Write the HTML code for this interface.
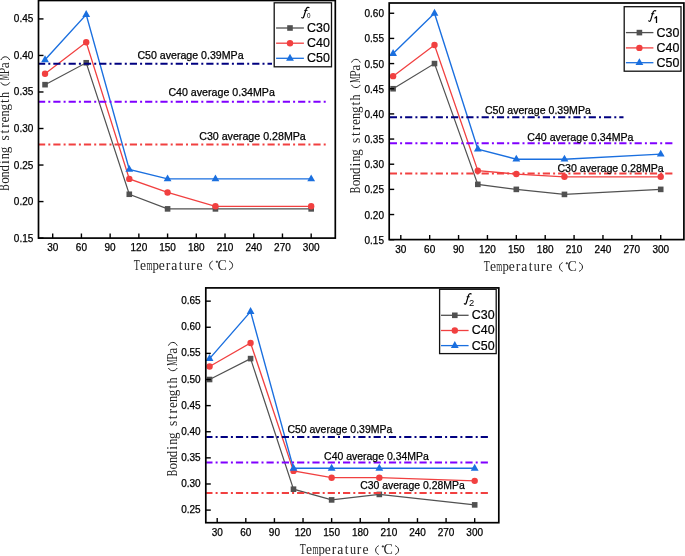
<!DOCTYPE html>
<html><head><meta charset="utf-8"><style>
html,body{margin:0;padding:0;background:#fff;}
svg{display:block;will-change:transform;}
.tl{font-family:"Liberation Sans",sans-serif;font-size:10px;fill:#000;stroke:#000;stroke-width:0.25px;}
.al{font-family:"Liberation Sans",sans-serif;font-size:11px;fill:#000;stroke:#000;stroke-width:0.25px;}
.lg{font-family:"Liberation Sans",sans-serif;font-size:12px;fill:#000;stroke:#000;stroke-width:0.2px;}
.ti{font-family:"Liberation Serif",serif;font-size:13.6px;fill:#222;}
.sub{font-family:"Liberation Sans",sans-serif;fill:#000;}
</style></head><body>
<svg width="685" height="556" viewBox="0 0 685 556">
<rect width="685" height="556" fill="#fff"/>
<g>
<polyline points="45.04,84.67 86.21,62.76 129.29,194.26 167.58,208.88 215.45,208.88 311.18,208.88" fill="none" stroke="#515151" stroke-width="1.2"/>
<polyline points="45.04,73.72 86.21,42.3 129.29,178.92 167.58,192.44 215.45,206.32 311.18,206.32" fill="none" stroke="#F14040" stroke-width="1.3"/>
<polyline points="45.04,59.83 86.21,14.54 129.29,169.42 167.58,178.92 215.45,178.92 311.18,178.92" fill="none" stroke="#1A6FDF" stroke-width="1.4"/>
<rect x="42.24" y="81.87" width="5.6" height="5.6" fill="#515151"/>
<rect x="83.41" y="59.96" width="5.6" height="5.6" fill="#515151"/>
<rect x="126.49" y="191.46" width="5.6" height="5.6" fill="#515151"/>
<rect x="164.78" y="206.08" width="5.6" height="5.6" fill="#515151"/>
<rect x="212.65" y="206.08" width="5.6" height="5.6" fill="#515151"/>
<rect x="308.38" y="206.08" width="5.6" height="5.6" fill="#515151"/>
<circle cx="45.04" cy="73.72" r="3.2" fill="#F14040"/>
<circle cx="86.21" cy="42.3" r="3.2" fill="#F14040"/>
<circle cx="129.29" cy="178.92" r="3.2" fill="#F14040"/>
<circle cx="167.58" cy="192.44" r="3.2" fill="#F14040"/>
<circle cx="215.45" cy="206.32" r="3.2" fill="#F14040"/>
<circle cx="311.18" cy="206.32" r="3.2" fill="#F14040"/>
<path d="M45.04,55.33L48.94,62.23L41.14,62.23Z" fill="#1A6FDF"/>
<path d="M86.21,10.04L90.11,16.94L82.31,16.94Z" fill="#1A6FDF"/>
<path d="M129.29,164.92L133.19,171.82L125.39,171.82Z" fill="#1A6FDF"/>
<path d="M167.58,174.42L171.48,181.32L163.68,181.32Z" fill="#1A6FDF"/>
<path d="M215.45,174.42L219.35,181.32L211.55,181.32Z" fill="#1A6FDF"/>
<path d="M311.18,174.42L315.08,181.32L307.28,181.32Z" fill="#1A6FDF"/>
<line x1="38.9" y1="63.71" x2="272" y2="63.71" stroke="#000080" stroke-width="2" stroke-dasharray="7.2 3.1 2 3" stroke-dashoffset="0.9"/>
<line x1="38.9" y1="101.84" x2="326.3" y2="101.84" stroke="#8000FF" stroke-width="2" stroke-dasharray="7.2 3.1 2 3" stroke-dashoffset="0.9"/>
<line x1="38.9" y1="144.58" x2="326.3" y2="144.58" stroke="#F14040" stroke-width="2" stroke-dasharray="7.2 3.1 2 3" stroke-dashoffset="0.9"/>
<text x="137.4" y="59.4" class="al" textLength="106.2" lengthAdjust="spacingAndGlyphs">C50 average 0.39MPa</text>
<text x="168.4" y="96.4" class="al" textLength="106.5" lengthAdjust="spacingAndGlyphs">C40 average 0.34MPa</text>
<text x="199.2" y="140.3" class="al" textLength="106.6" lengthAdjust="spacingAndGlyphs">C30 average 0.28MPa</text>
<rect x="38.5" y="0.5" width="296.8" height="237.6" fill="none" stroke="#000" stroke-width="1.7"/>
<line x1="38.5" y1="238.1" x2="43.5" y2="238.1" stroke="#000" stroke-width="1.4"/>
<text x="33.3" y="241.6" class="tl" text-anchor="end">0.15</text>
<line x1="38.5" y1="201.57" x2="43.5" y2="201.57" stroke="#000" stroke-width="1.4"/>
<text x="33.3" y="205.07" class="tl" text-anchor="end">0.20</text>
<line x1="38.5" y1="165.04" x2="43.5" y2="165.04" stroke="#000" stroke-width="1.4"/>
<text x="33.3" y="168.54" class="tl" text-anchor="end">0.25</text>
<line x1="38.5" y1="128.51" x2="43.5" y2="128.51" stroke="#000" stroke-width="1.4"/>
<text x="33.3" y="132.01" class="tl" text-anchor="end">0.30</text>
<line x1="38.5" y1="91.98" x2="43.5" y2="91.98" stroke="#000" stroke-width="1.4"/>
<text x="33.3" y="95.48" class="tl" text-anchor="end">0.35</text>
<line x1="38.5" y1="55.45" x2="43.5" y2="55.45" stroke="#000" stroke-width="1.4"/>
<text x="33.3" y="58.95" class="tl" text-anchor="end">0.40</text>
<line x1="38.5" y1="18.92" x2="43.5" y2="18.92" stroke="#000" stroke-width="1.4"/>
<text x="33.3" y="22.42" class="tl" text-anchor="end">0.45</text>
<line x1="52.7" y1="238.1" x2="52.7" y2="233.5" stroke="#000" stroke-width="1.4"/>
<text x="52.7" y="251.3" class="tl" text-anchor="middle">30</text>
<line x1="81.42" y1="238.1" x2="81.42" y2="233.5" stroke="#000" stroke-width="1.4"/>
<text x="81.42" y="251.3" class="tl" text-anchor="middle">60</text>
<line x1="110.14" y1="238.1" x2="110.14" y2="233.5" stroke="#000" stroke-width="1.4"/>
<text x="110.14" y="251.3" class="tl" text-anchor="middle">90</text>
<line x1="138.86" y1="238.1" x2="138.86" y2="233.5" stroke="#000" stroke-width="1.4"/>
<text x="138.86" y="251.3" class="tl" text-anchor="middle">120</text>
<line x1="167.58" y1="238.1" x2="167.58" y2="233.5" stroke="#000" stroke-width="1.4"/>
<text x="167.58" y="251.3" class="tl" text-anchor="middle">150</text>
<line x1="196.3" y1="238.1" x2="196.3" y2="233.5" stroke="#000" stroke-width="1.4"/>
<text x="196.3" y="251.3" class="tl" text-anchor="middle">180</text>
<line x1="225.02" y1="238.1" x2="225.02" y2="233.5" stroke="#000" stroke-width="1.4"/>
<text x="225.02" y="251.3" class="tl" text-anchor="middle">210</text>
<line x1="253.74" y1="238.1" x2="253.74" y2="233.5" stroke="#000" stroke-width="1.4"/>
<text x="253.74" y="251.3" class="tl" text-anchor="middle">240</text>
<line x1="282.46" y1="238.1" x2="282.46" y2="233.5" stroke="#000" stroke-width="1.4"/>
<text x="282.46" y="251.3" class="tl" text-anchor="middle">270</text>
<line x1="311.18" y1="238.1" x2="311.18" y2="233.5" stroke="#000" stroke-width="1.4"/>
<text x="311.18" y="251.3" class="tl" text-anchor="middle">300</text>
<rect x="274.2" y="2.8" width="57.3" height="64" fill="#fff" stroke="#111" stroke-width="1.3"/>
<line x1="276.1" y1="28" x2="303.9" y2="28" stroke="#515151" stroke-width="1.3"/>
<rect x="287.2" y="25.2" width="5.6" height="5.6" fill="#515151"/>
<text x="307.1" y="31.9" class="lg" textLength="22.8" lengthAdjust="spacingAndGlyphs">C30</text>
<line x1="276.1" y1="43.2" x2="303.9" y2="43.2" stroke="#F14040" stroke-width="1.3"/>
<circle cx="290" cy="43.2" r="3.2" fill="#F14040"/>
<text x="307.1" y="47.1" class="lg" textLength="22.8" lengthAdjust="spacingAndGlyphs">C40</text>
<line x1="276.1" y1="58.3" x2="303.9" y2="58.3" stroke="#1A6FDF" stroke-width="1.3"/>
<path d="M290,53.8L293.9,60.7L286.1,60.7Z" fill="#1A6FDF"/>
<text x="307.1" y="62.2" class="lg" textLength="22.8" lengthAdjust="spacingAndGlyphs">C50</text>
<path d="M301.44,17.2C302.25,18.48 303.31,18.25 303.94,16.26L306.16,9.01C306.78,7.25 308.3,6.9 309.45,7.84" fill="none" stroke="#000" stroke-width="1.2"/>
<path d="M304.2,10.41L307.59,10.41" stroke="#000" stroke-width="0.9"/>
<text x="307" y="17.9" class="sub" style="font-size:6.3px">0</text>
<text class="ti" transform="translate(133.87,269.5) scale(0.727,1)">T</text><text class="ti" x="140.11" y="269.5">e</text><text class="ti" transform="translate(146.4,269.5) scale(0.565,1)">m</text><text class="ti" transform="translate(152.61,269.5) scale(0.942,1)">p</text><text class="ti" x="158.87" y="269.5">e</text><text class="ti" x="165.83" y="269.5">r</text><text class="ti" x="171.27" y="269.5">a</text><text class="ti" x="178.77" y="269.5">t</text><text class="ti" transform="translate(183.93,269.5) scale(0.892,1)">u</text><text class="ti" x="190.85" y="269.5">r</text><text class="ti" x="196.4" y="269.5">e</text>
<path d="M212.7,261C208.57,262.94 208.57,267.86 212.7,269.8" fill="none" stroke="#1a1a1a" stroke-width="1.0"/>
<circle cx="216.9" cy="261.7" r="0.75" fill="#333" stroke="#1a1a1a" stroke-width="0.6"/>
<text x="217.53" y="269.7" class="ti" style="font-size:14px">C</text>
<path d="M229.2,261C233.73,262.94 233.73,267.86 229.2,269.8" fill="none" stroke="#1a1a1a" stroke-width="1.0"/>
<g transform="translate(9.4,190.5) rotate(-90)">
<text class="ti" transform="translate(-0.13,0) scale(0.711,1)">B</text><text class="ti" transform="translate(6.65,0) scale(0.989,1)">o</text><text class="ti" transform="translate(12.99,0) scale(0.907,1)">n</text><text class="ti" transform="translate(18.92,0) scale(0.928,1)">d</text><text class="ti" x="26.44" y="0">i</text><text class="ti" transform="translate(31.32,0) scale(0.907,1)">n</text><text class="ti" transform="translate(37.15,0) scale(0.957,1)">g</text><text class="ti" x="50.1" y="0">s</text><text class="ti" x="56.97" y="0">t</text><text class="ti" x="62.66" y="0">r</text><text class="ti" x="68.06" y="0">e</text><text class="ti" transform="translate(74.09,0) scale(0.907,1)">n</text><text class="ti" transform="translate(79.92,0) scale(0.957,1)">g</text><text class="ti" x="87.52" y="0">t</text><text class="ti" transform="translate(92.58,0) scale(0.879,1)">h</text>
<path d="M108.1,-8.5C104.5,-6.56 104.5,-1.64 108.1,0.3" fill="none" stroke="#1a1a1a" stroke-width="1.0"/>
<text class="ti" transform="translate(110.29,0) scale(0.531,1)">M</text><text class="ti" transform="translate(116.1,0) scale(0.905,1)">P</text><text class="ti" x="122.24" y="0">a</text>
<path d="M130.5,-8.5C134.77,-6.56 134.77,-1.64 130.5,0.3" fill="none" stroke="#1a1a1a" stroke-width="1.0"/>
</g>
</g>
<g>
<polyline points="393.1,88.74 434.49,63.58 477.81,184.35 516.32,189.38 564.45,194.41 660.72,189.38" fill="none" stroke="#515151" stroke-width="1.2"/>
<polyline points="393.1,76.16 434.49,44.96 477.81,170.76 516.32,174.03 564.45,176.8 660.72,176.8" fill="none" stroke="#F14040" stroke-width="1.3"/>
<polyline points="393.1,53.52 434.49,13.26 477.81,149.12 516.32,159.19 564.45,159.19 660.72,154.16" fill="none" stroke="#1A6FDF" stroke-width="1.4"/>
<rect x="390.3" y="85.94" width="5.6" height="5.6" fill="#515151"/>
<rect x="431.69" y="60.78" width="5.6" height="5.6" fill="#515151"/>
<rect x="475.01" y="181.55" width="5.6" height="5.6" fill="#515151"/>
<rect x="513.52" y="186.58" width="5.6" height="5.6" fill="#515151"/>
<rect x="561.65" y="191.61" width="5.6" height="5.6" fill="#515151"/>
<rect x="657.92" y="186.58" width="5.6" height="5.6" fill="#515151"/>
<circle cx="393.1" cy="76.16" r="3.2" fill="#F14040"/>
<circle cx="434.49" cy="44.96" r="3.2" fill="#F14040"/>
<circle cx="477.81" cy="170.76" r="3.2" fill="#F14040"/>
<circle cx="516.32" cy="174.03" r="3.2" fill="#F14040"/>
<circle cx="564.45" cy="176.8" r="3.2" fill="#F14040"/>
<circle cx="660.72" cy="176.8" r="3.2" fill="#F14040"/>
<path d="M393.1,49.02L397,55.92L389.2,55.92Z" fill="#1A6FDF"/>
<path d="M434.49,8.76L438.39,15.66L430.59,15.66Z" fill="#1A6FDF"/>
<path d="M477.81,144.62L481.71,151.52L473.91,151.52Z" fill="#1A6FDF"/>
<path d="M516.32,154.69L520.22,161.59L512.42,161.59Z" fill="#1A6FDF"/>
<path d="M564.45,154.69L568.35,161.59L560.55,161.59Z" fill="#1A6FDF"/>
<path d="M660.72,149.66L664.62,156.56L656.82,156.56Z" fill="#1A6FDF"/>
<line x1="389.6" y1="117.27" x2="623.5" y2="117.27" stroke="#000080" stroke-width="2" stroke-dasharray="7.2 3.1 2 3" stroke-dashoffset="-0.2"/>
<line x1="389.6" y1="143.24" x2="675.5" y2="143.24" stroke="#8000FF" stroke-width="2" stroke-dasharray="7.2 3.1 2 3" stroke-dashoffset="-0.2"/>
<line x1="389.6" y1="173.53" x2="675.5" y2="173.53" stroke="#F14040" stroke-width="2" stroke-dasharray="7.2 3.1 2 3" stroke-dashoffset="-0.2"/>
<text x="484.9" y="113.9" class="al" textLength="106" lengthAdjust="spacingAndGlyphs">C50 average 0.39MPa</text>
<text x="527.3" y="141.4" class="al" textLength="106.2" lengthAdjust="spacingAndGlyphs">C40 average 0.34MPa</text>
<text x="557.4" y="171.5" class="al" textLength="106.4" lengthAdjust="spacingAndGlyphs">C30 average 0.28MPa</text>
<rect x="389.2" y="3" width="294.7" height="236.6" fill="none" stroke="#000" stroke-width="1.7"/>
<line x1="389.2" y1="239.7" x2="394.2" y2="239.7" stroke="#000" stroke-width="1.4"/>
<text x="384" y="243.7" class="tl" text-anchor="end">0.15</text>
<line x1="389.2" y1="214.54" x2="394.2" y2="214.54" stroke="#000" stroke-width="1.4"/>
<text x="384" y="218.54" class="tl" text-anchor="end">0.20</text>
<line x1="389.2" y1="189.38" x2="394.2" y2="189.38" stroke="#000" stroke-width="1.4"/>
<text x="384" y="193.38" class="tl" text-anchor="end">0.25</text>
<line x1="389.2" y1="164.22" x2="394.2" y2="164.22" stroke="#000" stroke-width="1.4"/>
<text x="384" y="168.22" class="tl" text-anchor="end">0.30</text>
<line x1="389.2" y1="139.06" x2="394.2" y2="139.06" stroke="#000" stroke-width="1.4"/>
<text x="384" y="143.06" class="tl" text-anchor="end">0.35</text>
<line x1="389.2" y1="113.9" x2="394.2" y2="113.9" stroke="#000" stroke-width="1.4"/>
<text x="384" y="117.9" class="tl" text-anchor="end">0.40</text>
<line x1="389.2" y1="88.74" x2="394.2" y2="88.74" stroke="#000" stroke-width="1.4"/>
<text x="384" y="92.74" class="tl" text-anchor="end">0.45</text>
<line x1="389.2" y1="63.58" x2="394.2" y2="63.58" stroke="#000" stroke-width="1.4"/>
<text x="384" y="67.58" class="tl" text-anchor="end">0.50</text>
<line x1="389.2" y1="38.42" x2="394.2" y2="38.42" stroke="#000" stroke-width="1.4"/>
<text x="384" y="42.42" class="tl" text-anchor="end">0.55</text>
<line x1="389.2" y1="13.26" x2="394.2" y2="13.26" stroke="#000" stroke-width="1.4"/>
<text x="384" y="17.26" class="tl" text-anchor="end">0.60</text>
<line x1="400.8" y1="239.6" x2="400.8" y2="235" stroke="#000" stroke-width="1.4"/>
<text x="400.8" y="252.8" class="tl" text-anchor="middle">30</text>
<line x1="429.68" y1="239.6" x2="429.68" y2="235" stroke="#000" stroke-width="1.4"/>
<text x="429.68" y="252.8" class="tl" text-anchor="middle">60</text>
<line x1="458.56" y1="239.6" x2="458.56" y2="235" stroke="#000" stroke-width="1.4"/>
<text x="458.56" y="252.8" class="tl" text-anchor="middle">90</text>
<line x1="487.44" y1="239.6" x2="487.44" y2="235" stroke="#000" stroke-width="1.4"/>
<text x="487.44" y="252.8" class="tl" text-anchor="middle">120</text>
<line x1="516.32" y1="239.6" x2="516.32" y2="235" stroke="#000" stroke-width="1.4"/>
<text x="516.32" y="252.8" class="tl" text-anchor="middle">150</text>
<line x1="545.2" y1="239.6" x2="545.2" y2="235" stroke="#000" stroke-width="1.4"/>
<text x="545.2" y="252.8" class="tl" text-anchor="middle">180</text>
<line x1="574.08" y1="239.6" x2="574.08" y2="235" stroke="#000" stroke-width="1.4"/>
<text x="574.08" y="252.8" class="tl" text-anchor="middle">210</text>
<line x1="602.96" y1="239.6" x2="602.96" y2="235" stroke="#000" stroke-width="1.4"/>
<text x="602.96" y="252.8" class="tl" text-anchor="middle">240</text>
<line x1="631.84" y1="239.6" x2="631.84" y2="235" stroke="#000" stroke-width="1.4"/>
<text x="631.84" y="252.8" class="tl" text-anchor="middle">270</text>
<line x1="660.72" y1="239.6" x2="660.72" y2="235" stroke="#000" stroke-width="1.4"/>
<text x="660.72" y="252.8" class="tl" text-anchor="middle">300</text>
<rect x="624.2" y="6.7" width="56.8" height="64.5" fill="#fff" stroke="#111" stroke-width="1.3"/>
<line x1="625.9" y1="32.6" x2="653.4" y2="32.6" stroke="#515151" stroke-width="1.3"/>
<rect x="636.6" y="29.8" width="5.6" height="5.6" fill="#515151"/>
<text x="656.6" y="36.5" class="lg" textLength="22.8" lengthAdjust="spacingAndGlyphs">C30</text>
<line x1="625.9" y1="47.9" x2="653.4" y2="47.9" stroke="#F14040" stroke-width="1.3"/>
<circle cx="639.4" cy="47.9" r="3.2" fill="#F14040"/>
<text x="656.6" y="51.8" class="lg" textLength="22.8" lengthAdjust="spacingAndGlyphs">C40</text>
<line x1="625.9" y1="62.7" x2="653.4" y2="62.7" stroke="#1A6FDF" stroke-width="1.3"/>
<path d="M639.4,58.2L643.3,65.1L635.5,65.1Z" fill="#1A6FDF"/>
<text x="656.6" y="66.6" class="lg" textLength="22.8" lengthAdjust="spacingAndGlyphs">C50</text>
<path d="M648.43,20.5C649.2,21.78 650.24,21.55 650.84,19.56L652.99,12.31C653.59,10.55 655.05,10.2 656.17,11.14" fill="none" stroke="#000" stroke-width="1.2"/>
<path d="M651.1,13.71L654.36,13.71" stroke="#000" stroke-width="0.9"/>
<path d="M654.5,18.4L656.5,16.6L656.5,22.9" fill="none" stroke="#000" stroke-width="1.25" stroke-linejoin="round"/>
<text class="ti" transform="translate(483.77,271.1) scale(0.727,1)">T</text><text class="ti" x="490.01" y="271.1">e</text><text class="ti" transform="translate(496.3,271.1) scale(0.565,1)">m</text><text class="ti" transform="translate(502.51,271.1) scale(0.942,1)">p</text><text class="ti" x="508.77" y="271.1">e</text><text class="ti" x="515.73" y="271.1">r</text><text class="ti" x="521.17" y="271.1">a</text><text class="ti" x="528.67" y="271.1">t</text><text class="ti" transform="translate(533.83,271.1) scale(0.892,1)">u</text><text class="ti" x="540.75" y="271.1">r</text><text class="ti" x="546.3" y="271.1">e</text>
<path d="M562.6,262.6C558.47,264.54 558.47,269.46 562.6,271.4" fill="none" stroke="#1a1a1a" stroke-width="1.0"/>
<circle cx="566.8" cy="263.3" r="0.75" fill="#333" stroke="#1a1a1a" stroke-width="0.6"/>
<text x="567.43" y="271.3" class="ti" style="font-size:14px">C</text>
<path d="M579.1,262.6C583.63,264.54 583.63,269.46 579.1,271.4" fill="none" stroke="#1a1a1a" stroke-width="1.0"/>
<g transform="translate(360,193) rotate(-90)">
<text class="ti" transform="translate(-0.13,0) scale(0.711,1)">B</text><text class="ti" transform="translate(6.65,0) scale(0.989,1)">o</text><text class="ti" transform="translate(12.99,0) scale(0.907,1)">n</text><text class="ti" transform="translate(18.92,0) scale(0.928,1)">d</text><text class="ti" x="26.44" y="0">i</text><text class="ti" transform="translate(31.32,0) scale(0.907,1)">n</text><text class="ti" transform="translate(37.15,0) scale(0.957,1)">g</text><text class="ti" x="50.1" y="0">s</text><text class="ti" x="56.97" y="0">t</text><text class="ti" x="62.66" y="0">r</text><text class="ti" x="68.06" y="0">e</text><text class="ti" transform="translate(74.09,0) scale(0.907,1)">n</text><text class="ti" transform="translate(79.92,0) scale(0.957,1)">g</text><text class="ti" x="87.52" y="0">t</text><text class="ti" transform="translate(92.58,0) scale(0.879,1)">h</text>
<path d="M108.1,-8.5C104.5,-6.56 104.5,-1.64 108.1,0.3" fill="none" stroke="#1a1a1a" stroke-width="1.0"/>
<text class="ti" transform="translate(110.29,0) scale(0.531,1)">M</text><text class="ti" transform="translate(116.1,0) scale(0.905,1)">P</text><text class="ti" x="122.24" y="0">a</text>
<path d="M130.5,-8.5C134.77,-6.56 134.77,-1.64 130.5,0.3" fill="none" stroke="#1a1a1a" stroke-width="1.0"/>
</g>
</g>
<g>
<polyline points="209.57,379.5 250.58,358.6 293.49,489.2 331.64,499.91 379.32,494.43 474.69,504.88" fill="none" stroke="#515151" stroke-width="1.2"/>
<polyline points="209.57,366.44 250.58,342.93 293.49,470.92 331.64,477.71 379.32,477.71 474.69,480.85" fill="none" stroke="#F14040" stroke-width="1.3"/>
<polyline points="209.57,358.6 250.58,311.59 293.49,468.31 331.64,468.31 379.32,468.31 474.69,468.31" fill="none" stroke="#1A6FDF" stroke-width="1.4"/>
<rect x="206.77" y="376.7" width="5.6" height="5.6" fill="#515151"/>
<rect x="247.78" y="355.8" width="5.6" height="5.6" fill="#515151"/>
<rect x="290.69" y="486.4" width="5.6" height="5.6" fill="#515151"/>
<rect x="328.84" y="497.11" width="5.6" height="5.6" fill="#515151"/>
<rect x="376.52" y="491.63" width="5.6" height="5.6" fill="#515151"/>
<rect x="471.89" y="502.08" width="5.6" height="5.6" fill="#515151"/>
<circle cx="209.57" cy="366.44" r="3.2" fill="#F14040"/>
<circle cx="250.58" cy="342.93" r="3.2" fill="#F14040"/>
<circle cx="293.49" cy="470.92" r="3.2" fill="#F14040"/>
<circle cx="331.64" cy="477.71" r="3.2" fill="#F14040"/>
<circle cx="379.32" cy="477.71" r="3.2" fill="#F14040"/>
<circle cx="474.69" cy="480.85" r="3.2" fill="#F14040"/>
<path d="M209.57,354.1L213.47,361L205.67,361Z" fill="#1A6FDF"/>
<path d="M250.58,307.09L254.48,313.99L246.68,313.99Z" fill="#1A6FDF"/>
<path d="M293.49,463.81L297.39,470.71L289.59,470.71Z" fill="#1A6FDF"/>
<path d="M331.64,463.81L335.54,470.71L327.74,470.71Z" fill="#1A6FDF"/>
<path d="M379.32,463.81L383.22,470.71L375.42,470.71Z" fill="#1A6FDF"/>
<path d="M474.69,463.81L478.59,470.71L470.79,470.71Z" fill="#1A6FDF"/>
<line x1="206.2" y1="436.96" x2="489.2" y2="436.96" stroke="#000080" stroke-width="2" stroke-dasharray="7.2 3.1 2 3" stroke-dashoffset="0.9"/>
<line x1="206.2" y1="462.4" x2="489.2" y2="462.4" stroke="#8000FF" stroke-width="2" stroke-dasharray="7.2 3.1 2 3" stroke-dashoffset="0.9"/>
<line x1="206.2" y1="493.07" x2="489.2" y2="493.07" stroke="#F14040" stroke-width="2" stroke-dasharray="7.2 3.1 2 3" stroke-dashoffset="0.9"/>
<text x="287.4" y="432.5" class="al" textLength="104.9" lengthAdjust="spacingAndGlyphs">C50 average 0.39MPa</text>
<text x="324.1" y="460.2" class="al" textLength="104.7" lengthAdjust="spacingAndGlyphs">C40 average 0.34MPa</text>
<text x="360.2" y="488.9" class="al" textLength="104.6" lengthAdjust="spacingAndGlyphs">C30 average 0.28MPa</text>
<rect x="205.8" y="287.9" width="293" height="234.8" fill="none" stroke="#000" stroke-width="1.7"/>
<line x1="205.8" y1="510.1" x2="210.8" y2="510.1" stroke="#000" stroke-width="1.4"/>
<text x="200.6" y="513.2" class="tl" text-anchor="end">0.25</text>
<line x1="205.8" y1="483.98" x2="210.8" y2="483.98" stroke="#000" stroke-width="1.4"/>
<text x="200.6" y="487.08" class="tl" text-anchor="end">0.30</text>
<line x1="205.8" y1="457.86" x2="210.8" y2="457.86" stroke="#000" stroke-width="1.4"/>
<text x="200.6" y="460.96" class="tl" text-anchor="end">0.35</text>
<line x1="205.8" y1="431.74" x2="210.8" y2="431.74" stroke="#000" stroke-width="1.4"/>
<text x="200.6" y="434.84" class="tl" text-anchor="end">0.40</text>
<line x1="205.8" y1="405.62" x2="210.8" y2="405.62" stroke="#000" stroke-width="1.4"/>
<text x="200.6" y="408.72" class="tl" text-anchor="end">0.45</text>
<line x1="205.8" y1="379.5" x2="210.8" y2="379.5" stroke="#000" stroke-width="1.4"/>
<text x="200.6" y="382.6" class="tl" text-anchor="end">0.50</text>
<line x1="205.8" y1="353.38" x2="210.8" y2="353.38" stroke="#000" stroke-width="1.4"/>
<text x="200.6" y="356.48" class="tl" text-anchor="end">0.55</text>
<line x1="205.8" y1="327.26" x2="210.8" y2="327.26" stroke="#000" stroke-width="1.4"/>
<text x="200.6" y="330.36" class="tl" text-anchor="end">0.60</text>
<line x1="205.8" y1="301.14" x2="210.8" y2="301.14" stroke="#000" stroke-width="1.4"/>
<text x="200.6" y="304.24" class="tl" text-anchor="end">0.65</text>
<line x1="217.2" y1="522.7" x2="217.2" y2="518.1" stroke="#000" stroke-width="1.4"/>
<text x="217.2" y="535.9" class="tl" text-anchor="middle">30</text>
<line x1="245.81" y1="522.7" x2="245.81" y2="518.1" stroke="#000" stroke-width="1.4"/>
<text x="245.81" y="535.9" class="tl" text-anchor="middle">60</text>
<line x1="274.42" y1="522.7" x2="274.42" y2="518.1" stroke="#000" stroke-width="1.4"/>
<text x="274.42" y="535.9" class="tl" text-anchor="middle">90</text>
<line x1="303.03" y1="522.7" x2="303.03" y2="518.1" stroke="#000" stroke-width="1.4"/>
<text x="303.03" y="535.9" class="tl" text-anchor="middle">120</text>
<line x1="331.64" y1="522.7" x2="331.64" y2="518.1" stroke="#000" stroke-width="1.4"/>
<text x="331.64" y="535.9" class="tl" text-anchor="middle">150</text>
<line x1="360.25" y1="522.7" x2="360.25" y2="518.1" stroke="#000" stroke-width="1.4"/>
<text x="360.25" y="535.9" class="tl" text-anchor="middle">180</text>
<line x1="388.86" y1="522.7" x2="388.86" y2="518.1" stroke="#000" stroke-width="1.4"/>
<text x="388.86" y="535.9" class="tl" text-anchor="middle">210</text>
<line x1="417.47" y1="522.7" x2="417.47" y2="518.1" stroke="#000" stroke-width="1.4"/>
<text x="417.47" y="535.9" class="tl" text-anchor="middle">240</text>
<line x1="446.08" y1="522.7" x2="446.08" y2="518.1" stroke="#000" stroke-width="1.4"/>
<text x="446.08" y="535.9" class="tl" text-anchor="middle">270</text>
<line x1="474.69" y1="522.7" x2="474.69" y2="518.1" stroke="#000" stroke-width="1.4"/>
<text x="474.69" y="535.9" class="tl" text-anchor="middle">300</text>
<rect x="439.6" y="289.3" width="56.6" height="64.3" fill="#fff" stroke="#111" stroke-width="1.3"/>
<line x1="441" y1="315.3" x2="468.6" y2="315.3" stroke="#515151" stroke-width="1.3"/>
<rect x="452" y="312.5" width="5.6" height="5.6" fill="#515151"/>
<text x="471.8" y="319.2" class="lg" textLength="22.8" lengthAdjust="spacingAndGlyphs">C30</text>
<line x1="441" y1="330.5" x2="468.6" y2="330.5" stroke="#F14040" stroke-width="1.3"/>
<circle cx="454.8" cy="330.5" r="3.2" fill="#F14040"/>
<text x="471.8" y="334.4" class="lg" textLength="22.8" lengthAdjust="spacingAndGlyphs">C40</text>
<line x1="441" y1="345.6" x2="468.6" y2="345.6" stroke="#1A6FDF" stroke-width="1.3"/>
<path d="M454.8,341.1L458.7,348L450.9,348Z" fill="#1A6FDF"/>
<text x="471.8" y="349.5" class="lg" textLength="22.8" lengthAdjust="spacingAndGlyphs">C50</text>
<path d="M464.11,303.42C464.85,304.69 465.83,304.45 466.41,302.5L468.46,295.37C469.03,293.65 470.42,293.3 471.49,294.22" fill="none" stroke="#000" stroke-width="1.2"/>
<path d="M466.65,296.75L469.77,296.75" stroke="#000" stroke-width="0.9"/>
<text x="469" y="305.8" class="sub" style="font-size:9.4px">2</text>
<text class="ti" transform="translate(299.87,554.2) scale(0.727,1)">T</text><text class="ti" x="306.11" y="554.2">e</text><text class="ti" transform="translate(312.4,554.2) scale(0.565,1)">m</text><text class="ti" transform="translate(318.61,554.2) scale(0.942,1)">p</text><text class="ti" x="324.87" y="554.2">e</text><text class="ti" x="331.83" y="554.2">r</text><text class="ti" x="337.27" y="554.2">a</text><text class="ti" x="344.77" y="554.2">t</text><text class="ti" transform="translate(349.93,554.2) scale(0.892,1)">u</text><text class="ti" x="356.85" y="554.2">r</text><text class="ti" x="362.4" y="554.2">e</text>
<path d="M378.7,545.7C374.57,547.64 374.57,552.56 378.7,554.5" fill="none" stroke="#1a1a1a" stroke-width="1.0"/>
<circle cx="382.9" cy="546.4" r="0.75" fill="#333" stroke="#1a1a1a" stroke-width="0.6"/>
<text x="383.53" y="554.4" class="ti" style="font-size:14px">C</text>
<path d="M395.2,545.7C399.73,547.64 399.73,552.56 395.2,554.5" fill="none" stroke="#1a1a1a" stroke-width="1.0"/>
<g transform="translate(176.9,476.1) rotate(-90)">
<text class="ti" transform="translate(-0.13,0) scale(0.711,1)">B</text><text class="ti" transform="translate(6.65,0) scale(0.989,1)">o</text><text class="ti" transform="translate(12.99,0) scale(0.907,1)">n</text><text class="ti" transform="translate(18.92,0) scale(0.928,1)">d</text><text class="ti" x="26.44" y="0">i</text><text class="ti" transform="translate(31.32,0) scale(0.907,1)">n</text><text class="ti" transform="translate(37.15,0) scale(0.957,1)">g</text><text class="ti" x="50.1" y="0">s</text><text class="ti" x="56.97" y="0">t</text><text class="ti" x="62.66" y="0">r</text><text class="ti" x="68.06" y="0">e</text><text class="ti" transform="translate(74.09,0) scale(0.907,1)">n</text><text class="ti" transform="translate(79.92,0) scale(0.957,1)">g</text><text class="ti" x="87.52" y="0">t</text><text class="ti" transform="translate(92.58,0) scale(0.879,1)">h</text>
<path d="M108.1,-8.5C104.5,-6.56 104.5,-1.64 108.1,0.3" fill="none" stroke="#1a1a1a" stroke-width="1.0"/>
<text class="ti" transform="translate(110.29,0) scale(0.531,1)">M</text><text class="ti" transform="translate(116.1,0) scale(0.905,1)">P</text><text class="ti" x="122.24" y="0">a</text>
<path d="M130.5,-8.5C134.77,-6.56 134.77,-1.64 130.5,0.3" fill="none" stroke="#1a1a1a" stroke-width="1.0"/>
</g>
</g>
</svg>
</body></html>
